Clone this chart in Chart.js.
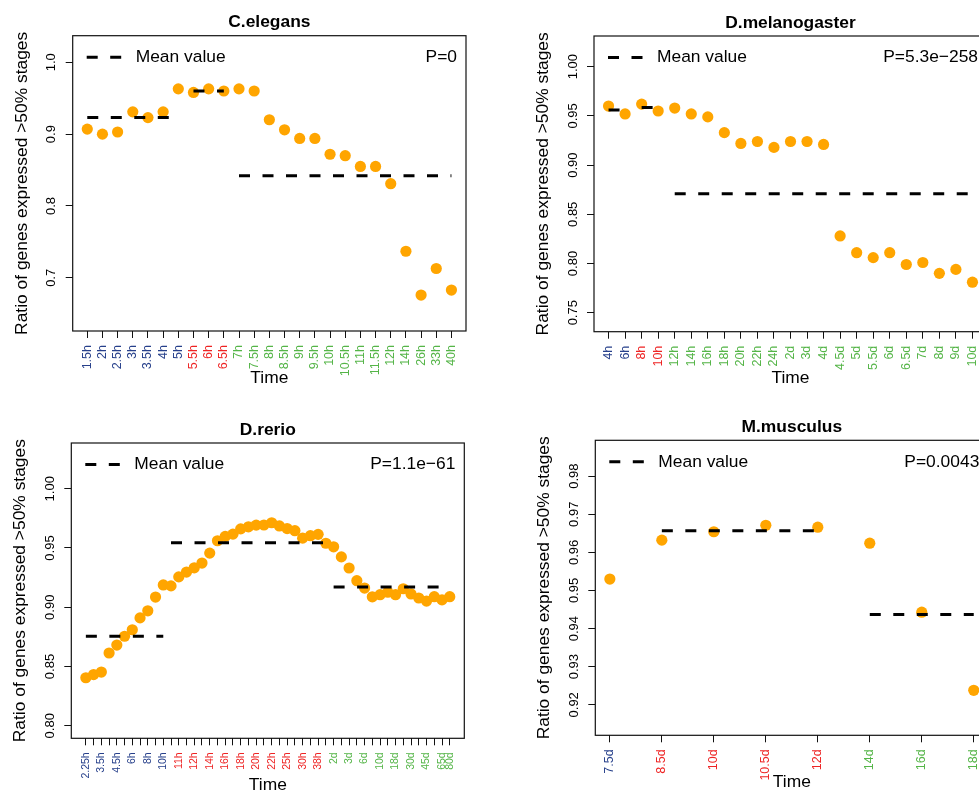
<!DOCTYPE html>
<html>
<head>
<meta charset="utf-8">
<script src="https://cdn.jsdelivr.net/npm/chart.js@4/dist/chart.umd.min.js"></script>
<style>
html, body { margin: 0; padding: 0; background: #fff; overflow: hidden; width: 979px; height: 792px; }
canvas { position: absolute; }
</style>
</head>
<body>
<canvas id="cel"></canvas>
<canvas id="dme"></canvas>
<canvas id="dre"></canvas>
<canvas id="mmu"></canvas>
<script>
// C.elegans
const celStages = ['1.5h','2h','2.5h','3h','3.5h','4h','5h','5.5h','6h','6.5h','7h','7.5h','8h','8.5h','9h','9.5h','10h','10.5h','11h','11.5h','12h','14h','26h','33h','40h'];
const celRatio = [0.907,0.900,0.903,0.931,0.923,0.931,0.963,0.958,0.963,0.960,0.963,0.960,0.920,0.906,0.894,0.894,0.872,0.870,0.855,0.855,0.831,0.737,0.676,0.713,0.683];
const celSplit = [7, 10];
const celMeans = [0.923, 0.960, 0.842];

// D.melanogaster
const dmeStages = ['4h','6h','8h','10h','12h','14h','16h','18h','20h','22h','24h','2d','3d','4d','4.5d','5d','5.5d','6d','6.5d','7d','8d','9d','10d'];
const dmeRatio = [0.960,0.952,0.962,0.955,0.958,0.952,0.949,0.933,0.922,0.924,0.918,0.924,0.924,0.921,0.828,0.811,0.806,0.811,0.799,0.801,0.790,0.794,0.781];
const dmeSplit = [2, 4];
const dmeMeans = [0.956, 0.9585, 0.871];

// D.rerio (only every other stage name is printed on the axis)
const dreStages = ['2.25h','3h','3.5h','4h','4.5h','5h','6h','7h','8h','9h','10h','10.3h','11h','11.7h','12h','13h','14h','15h','16h','17h','18h','19h','20h','21h','22h','24h','25h','27h','30h','34h','38h','42h','2d','2.5d','3d','4d','6d','8d','10d','14d','18d','24d','30d','40d','45d','55d','65d','80d'];
const dreRatio = [0.8405,0.8432,0.8453,0.8614,0.8681,0.8755,0.8810,0.8910,0.8970,0.9086,0.9188,0.9180,0.9256,0.9297,0.9333,0.9373,0.9457,0.9561,0.9598,0.9617,0.9661,0.9679,0.9693,0.9694,0.9713,0.9686,0.9664,0.9646,0.9583,0.9604,0.9615,0.9540,0.9510,0.9425,0.9331,0.9224,0.9162,0.9088,0.9106,0.9127,0.9106,0.9156,0.9112,0.9078,0.9052,0.9089,0.9062,0.9089];
const dreSplit = [11, 32];
const dreMeans = [0.8755, 0.9545, 0.917];

// M.musculus
const mmuStages = ['7.5d','8.5d','10d','10.5d','12d','14d','16d','18d'];
const mmuRatio = [0.9530,0.9632,0.9654,0.9671,0.9666,0.9624,0.9443,0.9238];
const mmuSplit = [1, 5];
const mmuMeans = [0.953, 0.9657, 0.9437];

const groupColors = ['#27408B', '#EE2424', '#55B548'];
const FONT = '"Liberation Sans", Arial, Helvetica, sans-serif';
Chart.defaults.font.family = FONT;

function groupOf(i, split) {
  return i < split[0] ? 0 : (i < split[1] ? 1 : 2);
}

function decor(p) {
  return {
    id: 'decor',
    afterDraw(chart) {
      const ctx = chart.ctx, a = chart.chartArea, y = chart.scales.y;
      const midX = (a.left + a.right) / 2;
      ctx.save();
      ctx.strokeStyle = '#111';
      ctx.lineWidth = 1.2;
      ctx.strokeRect(a.left, a.top, a.right - a.left, a.bottom - a.top);
      ctx.fillStyle = '#000';
      ctx.textBaseline = 'middle';
      // title
      ctx.font = 'bold 17.4px ' + FONT;
      ctx.textAlign = 'center';
      ctx.fillText(p.title, midX, a.top - 13);
      // x title
      ctx.font = '17.4px ' + FONT;
      ctx.fillText('Time', midX, a.bottom + 47);
      // legend
      ctx.beginPath();
      ctx.setLineDash([11, 12.5]);
      ctx.lineWidth = 3;
      ctx.strokeStyle = '#000';
      ctx.moveTo(a.left + 14, a.top + 21.5);
      ctx.lineTo(a.left + 49, a.top + 21.5);
      ctx.stroke();
      ctx.setLineDash([]);
      ctx.textAlign = 'left';
      ctx.fillText('Mean value', a.left + 63, a.top + 21.5);
      ctx.textAlign = 'right';
      ctx.fillText(p.pval, a.right - 9, a.top + 21.5);
      // y title
      ctx.save();
      ctx.translate(a.left - 50.7, (a.top + a.bottom) / 2);
      ctx.rotate(-Math.PI / 2);
      ctx.textAlign = 'center';
      ctx.fillText('Ratio of genes expressed >50% stages', 0, 0);
      ctx.restore();
      // y tick labels
      ctx.font = '13px ' + FONT;
      p.yTicks.forEach(v => {
        ctx.save();
        ctx.translate(a.left - 21, y.getPixelForValue(v));
        ctx.rotate(-Math.PI / 2);
        ctx.textAlign = 'center';
        ctx.fillText(v.toFixed(p.digits), 0, 0);
        ctx.restore();
      });
      ctx.restore();
    }
  };
}

function panel(p) {
  const cv = document.getElementById(p.id);
  cv.width = p.w; cv.height = p.h;
  cv.style.left = p.left + 'px'; cv.style.top = p.top + 'px';
  const n = p.stages.length;
  const xH = 50;
  const starts = [0, p.split[0], p.split[1]];
  const ends = [p.split[0] - 1, p.split[1] - 1, n - 1];

  const datasets = [];
  p.means.forEach((m, g) => {
    if (ends[g] <= starts[g]) return;
    datasets.push({
      data: [{x: starts[g], y: m}, {x: ends[g], y: m}],
      showLine: true, borderColor: '#000', borderWidth: 3, borderDash: [11, 12.5],
      pointRadius: 0, order: 0
    });
  });
  datasets.push({
    data: p.ratio.map((v, i) => ({x: i, y: v})),
    backgroundColor: '#FFA500', borderWidth: 0, pointRadius: 5.6, order: 1
  });

  new Chart(cv, {
    type: 'scatter',
    data: { datasets },
    options: {
      responsive: false, animation: false, events: [],
      layout: { padding: { left: p.area.l - 7, top: p.area.t, right: p.w - p.area.r, bottom: p.h - p.area.b - xH } },
      plugins: { legend: { display: false }, tooltip: { enabled: false } },
      scales: {
        x: {
          type: 'linear', min: -0.04 * (n - 1), max: 1.04 * (n - 1),
          afterBuildTicks: s => { s.ticks = p.stages.map((_, i) => ({ value: i })); },
          afterFit: s => { s.height = xH; s.paddingLeft = 0; s.paddingRight = 0; },
          border: { display: false },
          grid: { drawOnChartArea: false, drawTicks: true, tickLength: 7, color: '#111', tickWidth: 1 },
          ticks: {
            autoSkip: false, minRotation: 90, maxRotation: 90, padding: 7,
            font: { size: p.xFont },
            color: c => groupColors[groupOf(c.index, p.split)],
            callback: v => (v % p.every === 0 || v === n - 1) ? p.stages[v] : ''
          }
        },
        y: {
          min: p.yMin, max: p.yMax,
          afterBuildTicks: s => { s.ticks = p.yTicks.map(v => ({ value: v })); },
          afterFit: s => { s.width = 7; s.paddingTop = 0; s.paddingBottom = 0; },
          border: { display: false },
          grid: { drawOnChartArea: false, drawTicks: true, tickLength: 7, color: '#111', tickWidth: 1 },
          ticks: { display: false }
        }
      }
    },
    plugins: [decor(p)]
  });
}

panel({ id: 'cel', left: 0, top: 0, w: 490, h: 400, area: { l: 72.7, t: 35.7, r: 466, b: 331 },
  title: 'C.elegans', pval: 'P=0', stages: celStages, ratio: celRatio, split: celSplit, means: celMeans,
  yMin: 0.626, yMax: 1.037, yTicks: [0.7, 0.8, 0.9, 1.0], digits: 1, xFont: 12.5, every: 1 });

panel({ id: 'dme', left: 500, top: 0, w: 500, h: 400, area: { l: 94, t: 36, r: 487, b: 331.7 },
  title: 'D.melanogaster', pval: 'P=5.3e\u2212258', stages: dmeStages, ratio: dmeRatio, split: dmeSplit, means: dmeMeans,
  yMin: 0.7307, yMax: 1.0312, yTicks: [0.75, 0.80, 0.85, 0.90, 0.95, 1.00], digits: 2, xFont: 12.5, every: 1 });

panel({ id: 'dre', left: 0, top: 400, w: 490, h: 392, area: { l: 71.3, t: 43, r: 464.3, b: 338.3 },
  title: 'D.rerio', pval: 'P=1.1e\u221261', stages: dreStages, ratio: dreRatio, split: dreSplit, means: dreMeans,
  yMin: 0.7894, yMax: 1.0386, yTicks: [0.80, 0.85, 0.90, 0.95, 1.00], digits: 2, xFont: 10.5, every: 2 });

panel({ id: 'mmu', left: 500, top: 400, w: 500, h: 392, area: { l: 95.3, t: 40.3, r: 488.3, b: 335.3 },
  title: 'M.musculus', pval: 'P=0.0043', stages: mmuStages, ratio: mmuRatio, split: mmuSplit, means: mmuMeans,
  yMin: 0.912, yMax: 0.9894, yTicks: [0.92, 0.93, 0.94, 0.95, 0.96, 0.97, 0.98], digits: 2, xFont: 12.5, every: 1 });
</script>
</body>
</html>
